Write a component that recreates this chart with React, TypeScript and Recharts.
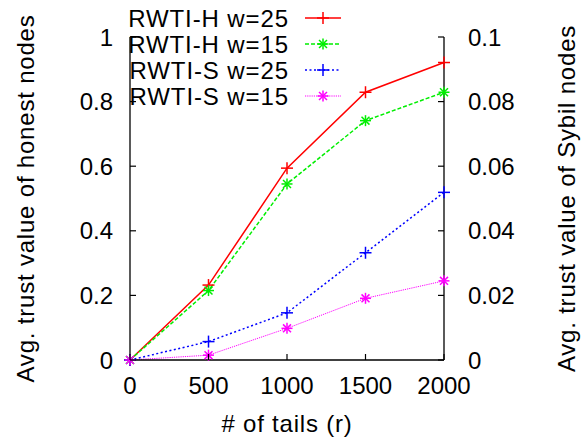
import React from "react";
import { LineChart, Line, XAxis, YAxis, Legend, Label } from "recharts";

// # of tails (r)
const tails = [0, 500, 1000, 1500, 2000];

// vänster axel: ärliga noder
const honestW25 = [0, 0.232, 0.594, 0.829, 0.921];
const honestW15 = [0, 0.215, 0.545, 0.741, 0.829];

// höger axel: Sybil-noder
const sybilW25 = [0, 0.0057, 0.0146, 0.0332, 0.0519];
const sybilW15 = [0, 0.0015, 0.0098, 0.0191, 0.0245];

const xTicks = [0, 500, 1000, 1500, 2000];
const leftTicks = [0, 0.2, 0.4, 0.6, 0.8, 1];
const rightTicks = [0, 0.02, 0.04, 0.06, 0.08, 0.1];

const FONT = "'Liberation Sans', Arial, Helvetica, sans-serif";

type Marker = "plus" | "star";

interface SeriesCfg {
  key: string;
  name: string;
  color: string;
  dash?: string;
  width: number;
  marker: Marker;
  axis: "left" | "right";
}

const series: SeriesCfg[] = [
  { key: "h25", name: "RWTI-H w=25", color: "#ff0000", width: 1.5, marker: "plus", axis: "left" },
  { key: "h15", name: "RWTI-H w=15", color: "#00ee00", dash: "4 2", width: 1.5, marker: "star", axis: "left" },
  { key: "s25", name: "RWTI-S w=25", color: "#0000ff", dash: "2 2.5", width: 1.5, marker: "plus", axis: "right" },
  { key: "s15", name: "RWTI-S w=15", color: "#ff00ff", dash: "1.2 1", width: 1, marker: "star", axis: "right" },
];

const data = tails.map((t, i) => ({
  tails: t,
  h25: honestW25[i],
  h15: honestW15[i],
  s25: sybilW25[i],
  s15: sybilW15[i],
}));

function MarkerShape({ cx, cy, color, marker }: { cx: number; cy: number; color: string; marker: Marker }) {
  const r = marker === "plus" ? 6 : 5.5;
  const d = r * 0.72;
  return (
    <g stroke={color} strokeWidth={1.5} fill="none">
      <line x1={cx - r} x2={cx + r} y1={cy} y2={cy} />
      <line x1={cx} x2={cx} y1={cy - r} y2={cy + r} />
      {marker === "star" && (
        <>
          <line x1={cx - d} x2={cx + d} y1={cy - d} y2={cy + d} />
          <line x1={cx - d} x2={cx + d} y1={cy + d} y2={cy - d} />
        </>
      )}
    </g>
  );
}

const fmt = (v: number) => String(Math.round(v * 1000) / 1000);

const LeftTick = (props: any) => {
  const { x, y, payload } = props;
  return (
    <g>
      <line x1={x} x2={x + 6} y1={y} y2={y} stroke="#000" strokeWidth={1.2} />
      <text x={x - 17} y={y} dy={8.5} textAnchor="end" fontSize={24} fontFamily={FONT} fill="#000">
        {fmt(payload.value)}
      </text>
    </g>
  );
};

const RightTick = (props: any) => {
  const { x, y, payload } = props;
  return (
    <g>
      <line x1={x - 6} x2={x} y1={y} y2={y} stroke="#000" strokeWidth={1.2} />
      <text x={x + 24} y={y} dy={8.5} textAnchor="start" fontSize={24} fontFamily={FONT} fill="#000">
        {fmt(payload.value)}
      </text>
    </g>
  );
};

const BottomTick = (props: any) => {
  const { x, y, payload } = props;
  return (
    <g>
      <line x1={x} x2={x} y1={y} y2={y - 6} stroke="#000" strokeWidth={1.2} />
      <text x={x} y={y} dy={33.5} textAnchor="middle" fontSize={24} fontFamily={FONT} fill="#000">
        {payload.value}
      </text>
    </g>
  );
};

function LegendBox() {
  return (
    <svg width={587} height={110} style={{ display: "block" }}>
      {series.map((s, i) => {
        const cy = 18 + i * 26;
        return (
          <g key={s.key}>
            <text
              x={289}
              y={cy}
              dy={8.5}
              textAnchor="end"
              fontSize={24}
              letterSpacing={0.9}
              fontFamily={FONT}
              fill="#000"
            >
              {s.name}
            </text>
            <line
              x1={305}
              x2={341}
              y1={cy}
              y2={cy}
              stroke={s.color}
              strokeWidth={s.width}
              strokeDasharray={s.dash}
            />
            <MarkerShape cx={323} cy={cy} color={s.color} marker={s.marker} />
          </g>
        );
      })}
    </svg>
  );
}

export default function App() {
  return (
    <div style={{ position: "absolute", left: 0, top: 0, width: 587, height: 439, background: "#fff" }}>
      <LineChart width={587} height={439} data={data} margin={{ top: 37, right: 0, bottom: 0, left: 0 }}>
        <XAxis
          dataKey="tails"
          type="number"
          domain={[0, 2000]}
          ticks={xTicks}
          height={79}
          tickSize={0}
          tickMargin={0}
          tickLine={false}
          tick={<BottomTick />}
          axisLine={{ stroke: "#000", strokeWidth: 1.3 }}
        >
          <Label
            value="# of tails (r)"
            position="center"
            dy={24}
            fontSize={24}
            letterSpacing={0.8}
            fontFamily={FONT}
            fill="#000"
          />
        </XAxis>
        <YAxis
          yAxisId="left"
          orientation="left"
          type="number"
          domain={[0, 1]}
          ticks={leftTicks}
          width={130}
          tickSize={0}
          tickMargin={0}
          tickLine={false}
          tick={<LeftTick />}
          axisLine={{ stroke: "#000", strokeWidth: 1.3 }}
        >
          <Label
            value="Avg. trust value of honest nodes"
            angle={-90}
            position="center"
            dx={-40}
            fontSize={24}
            letterSpacing={0.8}
            fontFamily={FONT}
            fill="#000"
          />
        </YAxis>
        <YAxis
          yAxisId="right"
          orientation="right"
          type="number"
          domain={[0, 0.1]}
          ticks={rightTicks}
          width={143}
          tickSize={0}
          tickMargin={0}
          tickLine={false}
          tick={<RightTick />}
          axisLine={{ stroke: "#000", strokeWidth: 1.3 }}
        >
          <Label
            value="Avg. trust value of Sybil nodes"
            angle={-90}
            position="center"
            dx={51}
            fontSize={24}
            letterSpacing={0.8}
            fontFamily={FONT}
            fill="#000"
          />
        </YAxis>
        <Legend
          layout="horizontal"
          verticalAlign="middle"
          align="center"
          content={() => <LegendBox />}
          wrapperStyle={{ position: "absolute", top: 0, left: 0, width: 587, height: 110, pointerEvents: "none" }}
        />
        {series.map((s) => (
          <Line
            key={s.key}
            yAxisId={s.axis}
            dataKey={s.key}
            name={s.name}
            type="linear"
            stroke={s.color}
            strokeWidth={s.width}
            strokeDasharray={s.dash}
            isAnimationActive={false}
            activeDot={false}
            dot={(p: any) => (
              <MarkerShape key={`${s.key}-${p.index}`} cx={p.cx} cy={p.cy} color={s.color} marker={s.marker} />
            )}
          />
        ))}
      </LineChart>
    </div>
  );
}
